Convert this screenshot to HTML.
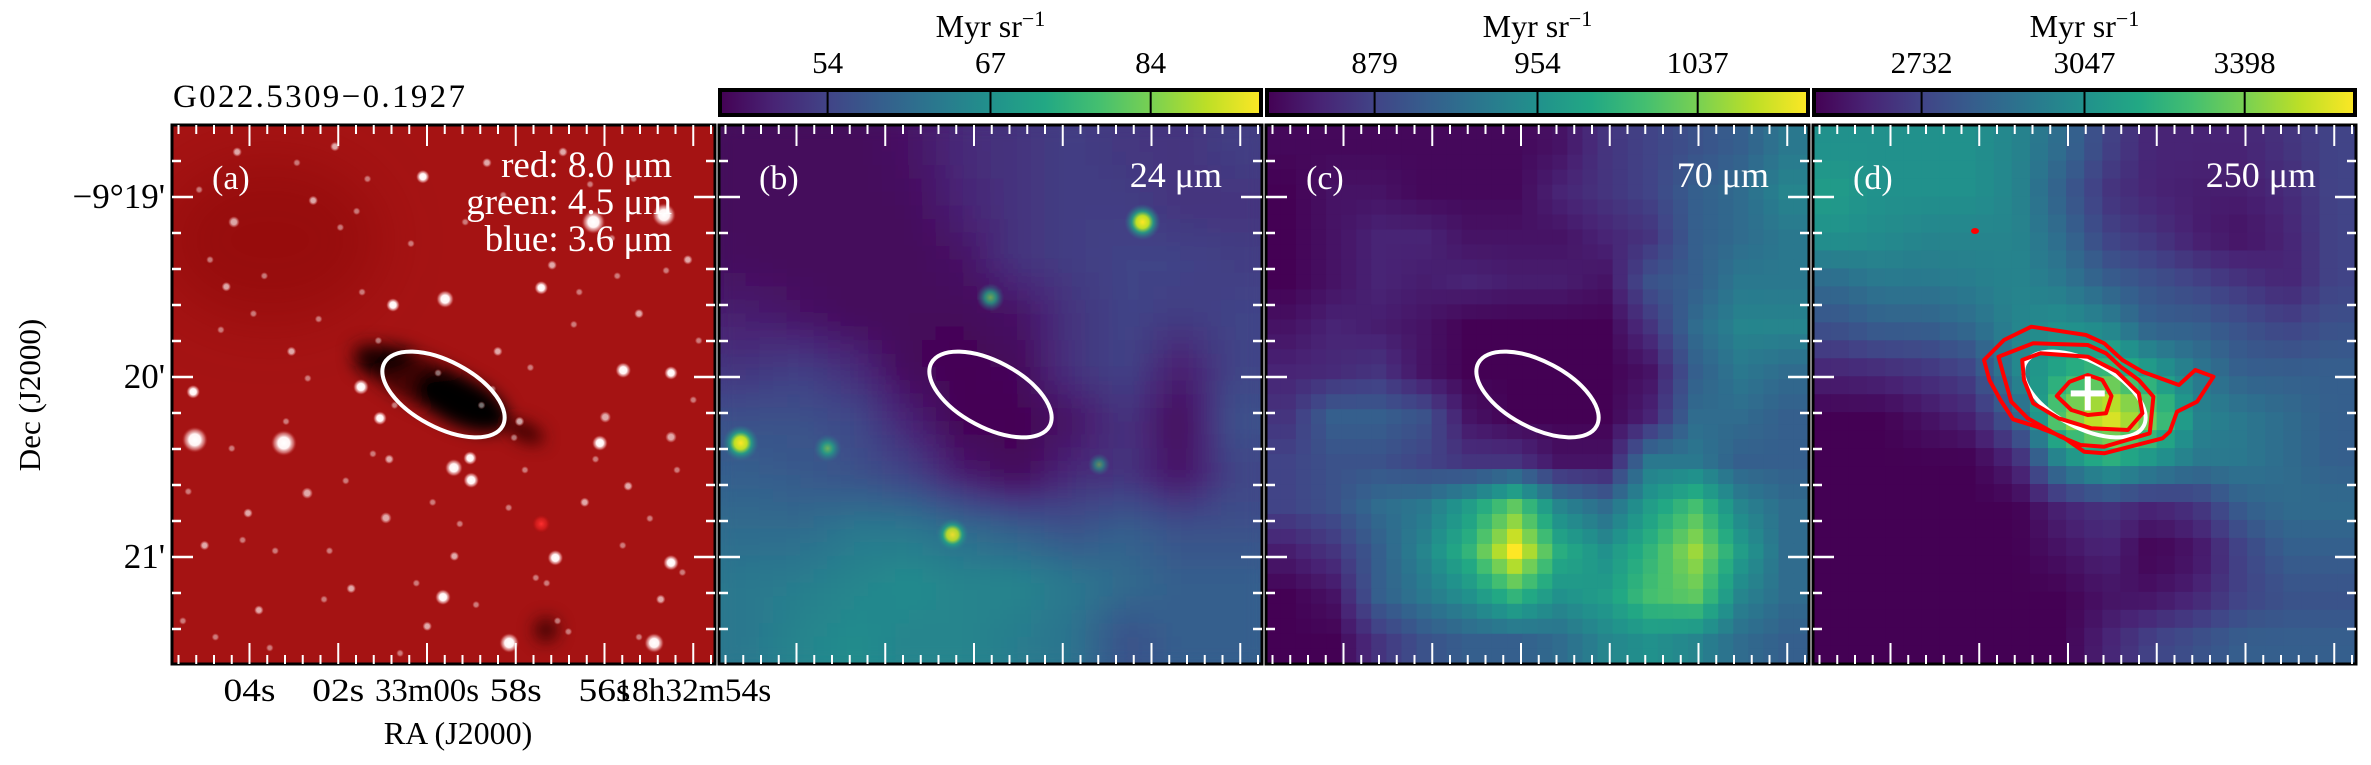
<!DOCTYPE html>
<html><head><meta charset="utf-8"><style>
html,body{margin:0;padding:0;background:#fff}
svg{display:block}
text{font-family:"Liberation Serif",serif}
</style></head><body>
<svg id="fig" xmlns="http://www.w3.org/2000/svg" width="2371" height="765" viewBox="0 0 2371 765">
<defs>
<filter id="blur8" filterUnits="userSpaceOnUse" x="0" y="0" width="2371" height="765"><feGaussianBlur stdDeviation="8"/></filter>
<filter id="blur14" filterUnits="userSpaceOnUse" x="0" y="0" width="2371" height="765"><feGaussianBlur stdDeviation="30"/></filter>
<radialGradient id="starW"><stop offset="0" stop-color="#fff"/><stop offset="0.45" stop-color="#fff4f4"/><stop offset="0.75" stop-color="#e8a0a0" stop-opacity="0.6"/><stop offset="1" stop-color="#c03030" stop-opacity="0"/></radialGradient>
<radialGradient id="starR"><stop offset="0" stop-color="#ff3030"/><stop offset="0.6" stop-color="#e02020" stop-opacity="0.7"/><stop offset="1" stop-color="#c01010" stop-opacity="0"/></radialGradient>
<radialGradient id="starY"><stop offset="0" stop-color="#fde725"/><stop offset="0.35" stop-color="#bddf26"/><stop offset="0.6" stop-color="#22a884" stop-opacity="0.8"/><stop offset="1" stop-color="#2a788e" stop-opacity="0"/></radialGradient>
<radialGradient id="starG"><stop offset="0" stop-color="#7ad151"/><stop offset="0.4" stop-color="#22a884"/><stop offset="1" stop-color="#2a788e" stop-opacity="0"/></radialGradient>
<linearGradient id="viridisH" x1="0" x2="1" y1="0" y2="0">
<stop offset="0" stop-color="#440154"/><stop offset="0.1" stop-color="#482475"/><stop offset="0.2" stop-color="#414487"/><stop offset="0.3" stop-color="#355f8d"/><stop offset="0.4" stop-color="#2a788e"/><stop offset="0.5" stop-color="#21918c"/><stop offset="0.6" stop-color="#22a884"/><stop offset="0.7" stop-color="#44bf70"/><stop offset="0.8" stop-color="#7ad151"/><stop offset="0.9" stop-color="#bddf26"/><stop offset="1" stop-color="#fde725"/>
</linearGradient>
<clipPath id="clipA"><rect x="172" y="125" width="543" height="539"/></clipPath>
<clipPath id="clipB"><rect x="719" y="125" width="543" height="539"/></clipPath>
<clipPath id="clipC"><rect x="1266" y="125" width="543" height="539"/></clipPath>
<clipPath id="clipD"><rect x="1813" y="125" width="543" height="539"/></clipPath>
</defs>

<text x="173" y="107" font-size="33" textLength="292" lengthAdjust="spacing">G022.5309−0.1927</text>

<g id="panelA" clip-path="url(#clipA)">
<rect x="172" y="125" width="543" height="539" fill="#a51313"/>
<g filter="url(#blur14)">
<ellipse cx="270" cy="240" rx="110" ry="80" fill="#7a0e0e" opacity="0.35"/>
</g>
<g filter="url(#blur8)">
<ellipse cx="430" cy="385" rx="85" ry="24" transform="rotate(25 430 385)" fill="#2a0404" opacity="0.8"/>
<ellipse cx="462" cy="402" rx="50" ry="24" transform="rotate(25 462 402)" fill="#050202"/>
<ellipse cx="385" cy="360" rx="30" ry="12" transform="rotate(-10 385 360)" fill="#0a0303"/>
<ellipse cx="525" cy="432" rx="20" ry="9" transform="rotate(25 525 432)" fill="#3a0505"/>
<ellipse cx="546" cy="630" rx="12" ry="12" fill="#2a0404" opacity="0.8"/>
</g>
<g id="starsA"></g>
</g>
<rect x="172" y="125" width="543" height="539" fill="none" stroke="#000" stroke-width="3"/>

<g id="panelB" clip-path="url(#clipB)"></g>
<rect x="719" y="125" width="543" height="539" fill="none" stroke="#000" stroke-width="3"/>
<g id="panelC" clip-path="url(#clipC)"></g>
<rect x="1266" y="125" width="543" height="539" fill="none" stroke="#000" stroke-width="3"/>
<g id="panelD" clip-path="url(#clipD)"></g>
<rect x="1813" y="125" width="543" height="539" fill="none" stroke="#000" stroke-width="3"/>

<g id="overlays"></g>
<g id="ticks"></g>
<g id="cbars"></g>

<text x="0" y="0" font-size="31" text-anchor="middle" transform="translate(40 395) rotate(-90)">Dec (J2000)</text>
<text x="458" y="744" font-size="32" text-anchor="middle">RA (J2000)</text>
</svg>

<script>
// ---- data arrays ----
const cbarTickLabels = [["54","67","84"],["879","954","1037"],["2732","3047","3398"]];
const cbarTickFrac = [0.2,0.5,0.795];
const decLabels = ["−9°19'","20'","21'"];
const raLabels = ["04s","02s","33m00s","58s","56s","18h32m54s"];
const raLabelWidths = [52,52,104,52,52,156];
const panelLetters = ["(a)","(b)","(c)","(d)"];
const bandLabels = ["","24 μm","70 μm","250 μm"];
const rgbLegend = ["red: 8.0 μm","green: 4.5 μm","blue: 3.6 μm"];

const gridB = [
[0.02,0.02,0.02,0.05,0.12,0.15,0.18,0.16,0.15,0.18],
[0.02,0.02,0.02,0.03,0.10,0.15,0.18,0.18,0.15,0.15],
[0.03,0.02,0.02,0.02,0.05,0.15,0.18,0.20,0.20,0.18],
[0.08,0.05,0.02,0.02,0.02,0.05,0.15,0.20,0.18,0.20],
[0.15,0.18,0.12,0.02,0.00,0.02,0.15,0.20,0.08,0.20],
[0.25,0.25,0.22,0.10,0.00,0.00,0.05,0.15,0.02,0.25],
[0.30,0.28,0.25,0.20,0.08,0.02,0.12,0.15,0.05,0.20],
[0.35,0.35,0.40,0.40,0.35,0.30,0.25,0.30,0.25,0.25],
[0.40,0.42,0.45,0.48,0.45,0.45,0.40,0.35,0.30,0.30],
[0.40,0.45,0.48,0.45,0.45,0.42,0.38,0.25,0.30,0.30]];
const gridC = [
[0.02,0.02,0.02,0.02,0.02,0.02,0.05,0.15,0.20,0.25,0.30,0.40],
[0.00,0.05,0.05,0.02,0.02,0.02,0.10,0.15,0.20,0.30,0.35,0.45],
[0.00,0.05,0.10,0.10,0.05,0.05,0.05,0.10,0.15,0.30,0.35,0.40],
[0.00,0.05,0.10,0.08,0.10,0.08,0.08,0.05,0.25,0.30,0.40,0.40],
[0.05,0.10,0.08,0.05,0.00,0.00,0.00,0.00,0.15,0.35,0.45,0.45],
[0.10,0.12,0.15,0.05,0.00,0.00,0.00,0.00,0.05,0.30,0.40,0.35],
[0.15,0.30,0.30,0.25,0.05,0.00,0.00,0.00,0.10,0.35,0.35,0.30],
[0.20,0.25,0.25,0.20,0.15,0.15,0.05,0.05,0.40,0.40,0.30,0.30],
[0.20,0.25,0.35,0.40,0.55,0.75,0.45,0.35,0.55,0.70,0.45,0.35],
[0.08,0.15,0.30,0.45,0.65,1.00,0.62,0.50,0.65,0.85,0.55,0.35],
[0.00,0.05,0.30,0.40,0.50,0.65,0.50,0.55,0.70,0.75,0.45,0.35],
[0.00,0.00,0.15,0.25,0.30,0.30,0.35,0.45,0.50,0.45,0.35,0.30]];
const gridD = [
[0.50,0.50,0.50,0.50,0.45,0.35,0.20,0.10,0.10,0.10,0.15,0.20],
[0.55,0.50,0.50,0.50,0.45,0.30,0.15,0.10,0.08,0.08,0.12,0.20],
[0.50,0.48,0.45,0.45,0.45,0.35,0.20,0.15,0.08,0.05,0.10,0.20],
[0.35,0.40,0.40,0.42,0.45,0.40,0.30,0.25,0.20,0.15,0.10,0.20],
[0.25,0.30,0.30,0.35,0.45,0.50,0.45,0.30,0.30,0.25,0.20,0.25],
[0.10,0.12,0.15,0.20,0.45,0.60,0.70,0.55,0.40,0.30,0.30,0.30],
[0.00,0.00,0.05,0.10,0.30,0.80,1.00,0.80,0.45,0.40,0.35,0.30],
[0.00,0.00,0.00,0.00,0.10,0.45,0.60,0.50,0.40,0.40,0.35,0.30],
[0.00,0.00,0.00,0.00,0.00,0.10,0.15,0.10,0.15,0.30,0.35,0.35],
[0.00,0.00,0.00,0.00,0.00,0.05,0.10,0.00,0.05,0.20,0.30,0.30],
[0.00,0.00,0.00,0.00,0.00,0.00,0.05,0.05,0.10,0.20,0.25,0.25],
[0.00,0.00,0.00,0.00,0.00,0.00,0.10,0.20,0.25,0.30,0.30,0.30]];
const starsBx = [0.78,0.50,0.04,0.20,0.43,0.70];
const starsBy = [0.18,0.32,0.59,0.60,0.76,0.63];
const starsBv = [1.0,0.6,1.0,0.6,0.85,0.3];
const starsAx = [0.042,0.206,0.348,0.383,0.503,0.407,0.462,0.776,0.906,0.680,0.831,0.919,0.788,0.519,0.551,0.549,0.680,0.706,0.919,0.499,0.621,0.888,0.039,0.114,0.249,0.394,0.798,0.919,0.12,0.30,0.58,0.72,0.86,0.10,0.22,0.64,0.95,0.33,0.47,0.76,0.16,0.52,0.84,0.06,0.40,0.26,0.60,0.70,0.14,0.90,
0.05,0.09,0.17,0.25,0.31,0.37,0.44,0.53,0.61,0.67,0.74,0.81,0.88,0.96,0.03,0.13,0.21,0.28,0.35,0.42,0.49,0.56,0.63,0.71,0.78,0.85,0.93,0.08,0.19,0.27,0.36,0.45,0.57,0.66,0.75,0.83,0.91,0.02,0.11,0.23,0.32,0.41,0.54,0.62,0.69,0.77,0.86,0.94,0.15,0.29,0.38,0.59,0.73,0.97,0.07,0.18,0.34,0.48,0.65,0.82];
const starsAy = [0.584,0.590,0.486,0.544,0.323,0.334,0.096,0.180,0.167,0.302,0.455,0.460,0.590,0.636,0.659,0.618,0.740,0.803,0.812,0.876,0.961,0.961,0.495,0.180,0.683,0.729,0.542,0.579,0.05,0.04,0.07,0.05,0.35,0.30,0.42,0.55,0.25,0.86,0.93,0.70,0.90,0.80,0.67,0.78,0.62,0.14,0.42,0.26,0.72,0.88,
0.12,0.38,0.28,0.47,0.19,0.61,0.22,0.74,0.13,0.84,0.37,0.21,0.73,0.51,0.68,0.77,0.55,0.88,0.31,0.98,0.46,0.89,0.58,0.92,0.62,0.10,0.64,0.95,0.79,0.36,0.10,0.85,0.52,0.45,0.31,0.78,0.27,0.92,0.60,0.07,0.66,0.52,0.18,0.71,0.85,0.11,0.95,0.83,0.35,0.79,0.40,0.49,0.94,0.40,0.25,0.97,0.16,0.70,0.64,0.28];
const starsAs = [13,13,8,7,9,7,7,12,12,7,8,7,8,9,8,7,9,8,8,8,10,10,7,6,6,6,6,6,5,5,5,5,5,5,5,5,5,5,5,5,5,5,5,5,5,5,5,5,5,5,
4,4,4,4,4,4,4,4,4,4,4,4,4,4,4,4,4,4,4,4,4,4,4,4,4,4,4,4,4,4,4,4,4,4,4,4,4,4,4,4,4,4,4,4,4,4,4,4,4,4,4,4,4,4,4,4,4,4,4,4];

const NS="http://www.w3.org/2000/svg";
const PL=[172,719,1266,1813], PT=125, PW=543, PH=539;
const VIR=["#440154","#482475","#414487","#355f8d","#2a788e","#21918c","#22a884","#44bf70","#7ad151","#bddf26","#fde725"];
function hex(c){return [parseInt(c.slice(1,3),16),parseInt(c.slice(3,5),16),parseInt(c.slice(5,7),16)];}
const VR=VIR.map(hex);
function viridis(v){v=Math.max(0,Math.min(1,v));const t=v*10,i=Math.min(9,Math.floor(t)),f=t-i;const a=VR[i],b=VR[i+1];
return "rgb("+a.map((x,k)=>Math.round(x+(b[k]-x)*f)).join(",")+")";}
function sample(g,u,v){const R=g.length,C=g[0].length;let x=u*C-0.5,y=v*R-0.5;x=Math.max(0,Math.min(C-1,x));y=Math.max(0,Math.min(R-1,y));
const x0=Math.floor(x),y0=Math.floor(y),x1=Math.min(C-1,x0+1),y1=Math.min(R-1,y0+1),fx=x-x0,fy=y-y0;
return g[y0][x0]*(1-fx)*(1-fy)+g[y0][x1]*fx*(1-fy)+g[y1][x0]*(1-fx)*fy+g[y1][x1]*fx*fy;}
function px(p,f){return PL[p]+f*PW;}
function py(f){return PT+f*PH;}
function mk(tag,attrs,parent){const e=document.createElementNS(NS,tag);for(const k in attrs)e.setAttribute(k,attrs[k]);parent.appendChild(e);return e;}

function drawGrid(g,p,N,parentId,name,filt){
  const par=document.getElementById(parentId);
  const grp=mk("g",filt?{filter:filt}:{},par);
  const cw=PW/N,ch=PH/N;
  for(let j=0;j<N;j++)for(let i=0;i<N;i++){
    const v=sample(g,(i+0.5)/N,(j+0.5)/N);
    const r=mk("rect",{x:(px(p,i/N)-0.3).toFixed(2),y:(py(j/N)-0.3).toFixed(2),width:(cw+0.6).toFixed(2),height:(ch+0.6).toFixed(2),fill:viridis(v)},grp);
    
    
  }
  return grp;
}
drawGrid(gridB,1,40,"panelB","pixel-24um",null);
drawGrid(gridB,1,40,"panelB","pixel-24um","url(#blur8)");
const pb=document.getElementById("panelB");
for(let k=0;k<starsBx.length;k++){
  const c=mk("circle",{cx:px(1,starsBx[k]),cy:py(starsBy[k]),r:8+10*starsBv[k],fill:starsBv[k]>0.8?"url(#starY)":"url(#starG)",opacity:0.4+0.6*starsBv[k]},pb);
  
  
}
drawGrid(gridC,2,36,"panelC","pixel-70um",null);
drawGrid(gridD,3,30,"panelD","pixel-250um",null);

const sa=document.getElementById("starsA");
for(let k=0;k<starsAx.length;k++){
  const red=(k===16);
  const s=starsAs[k];
  const c=mk("circle",{cx:px(0,starsAx[k]),cy:py(starsAy[k]),r:s,fill:red?"url(#starR)":"url(#starW)",opacity:s>6?1:(s>4?0.65:0.45)},sa);
  
  
}

const ov=document.getElementById("overlays");
for(let p=0;p<4;p++){
  const cx=px(p,0.5),cy=py(0.5);
  const e=mk("ellipse",{cx:cx,cy:cy,rx:67,ry:33,transform:"rotate(28 "+cx+" "+cy+")",fill:"none",stroke:"#fff","stroke-width":4},ov);
  
  
  const t=mk("text",{x:PL[p]+40,y:189,"font-size":34,fill:"#fff"},ov);t.textContent=panelLetters[p];
  
  
  if(bandLabels[p]){const b=mk("text",{x:PL[p]+PW-40,y:187,"font-size":36,fill:"#fff","text-anchor":"end"},ov);b.textContent=bandLabels[p];
    
    }
}
rgbLegend.forEach((s,i)=>{const t=mk("text",{x:672,y:177+i*37,"font-size":37,fill:"#fff","text-anchor":"end"},ov);t.textContent=s;
  
  });

const contours=[
[[635,440],[785,465],[835,490],[885,540],[940,575],[1040,615],[1085,570],[1135,590],[1090,665],[1035,695],[1015,755],[995,775],[835,820],[780,815],[720,770],[650,740],[585,718],[550,660],[520,600],[505,540],[560,480]],
[[545,530],[640,490],[790,495],[840,520],[880,560],[930,600],[970,650],[960,760],[835,800],[770,795],[715,770],[625,715],[580,665],[560,590]],
[[610,540],[660,520],[790,530],[870,575],[930,640],[940,700],[900,750],[800,745],[710,715],[640,670],[615,600]],
[[705,648],[740,605],[790,585],[830,600],[855,648],[840,700],[790,705],[745,690]]];
contours.forEach(c=>{const pts=c.map(q=>(1800+q[0]/2.745).toFixed(1)+","+(180+q[1]/3).toFixed(1)).join(" ");
  const pg=mk("polygon",{points:pts,fill:"none",stroke:"#f00","stroke-width":4,"stroke-linejoin":"round"},ov);
  
  });
const dot=mk("ellipse",{cx:1975,cy:231,rx:4,ry:3,fill:"#f00"},ov);


const cx=px(3,0.506),cy=py(0.498);
const cr1=mk("rect",{x:cx-17,y:cy-3,width:34,height:6,fill:"#fff"},ov);


const cr2=mk("rect",{x:cx-3,y:cy-17,width:6,height:34,fill:"#fff"},ov);



const tk=document.getElementById("ticks");
const XMAJ0=77.5, XSTEP=17.75, YMAJ0=72, YSTEP=36;
for(let p=0;p<4;p++){
  for(let k=-4;k<=26;k++){const x=PL[p]+XMAJ0+k*XSTEP; if(x<PL[p]+4||x>PL[p]+PW-3)continue;
    const len=(k%5===0)?21:9;
    mk("line",{x1:x,x2:x,y1:PT,y2:PT+len,stroke:"#fff","stroke-width":2},tk);
    mk("line",{x1:x,x2:x,y1:PT+PH,y2:PT+PH-len,stroke:"#fff","stroke-width":2},tk);}
  for(let k=-1;k<=13;k++){const y=PT+YMAJ0+k*YSTEP; if(y<PT+4||y>PT+PH-4)continue;
    const len=(k%5===0)?21:9;
    mk("line",{x1:PL[p],x2:PL[p]+len,y1:y,y2:y,stroke:"#fff","stroke-width":2.5},tk);
    mk("line",{x1:PL[p]+PW,x2:PL[p]+PW-len,y1:y,y2:y,stroke:"#fff","stroke-width":2.5},tk);}
}
decLabels.forEach((s,i)=>{const t=mk("text",{x:165,y:PT+YMAJ0+i*5*YSTEP+11,"font-size":35,"text-anchor":"end"},tk);t.textContent=s;
  
  });
raLabels.forEach((s,i)=>{const t=mk("text",{x:PL[0]+XMAJ0+i*5*XSTEP,y:701,"font-size":33,"text-anchor":"middle",textLength:raLabelWidths[i],lengthAdjust:"spacingAndGlyphs"},tk);t.textContent=s;
  
  });

const cb=document.getElementById("cbars");
for(let q=0;q<3;q++){const p=q+1,L=PL[p];
  const r=mk("rect",{x:L+1,y:90,width:PW-2,height:25,fill:"url(#viridisH)",stroke:"#000","stroke-width":4},cb);
  
  
  const u=mk("text",{x:L+PW/2,y:37,"font-size":32,"text-anchor":"middle"},cb);
  u.innerHTML='Myr sr<tspan dy="-11" font-size="22">−1</tspan>';
  
  
  cbarTickLabels[q].forEach((s,i)=>{const x=L+cbarTickFrac[i]*PW;
    mk("line",{x1:x,x2:x,y1:92,y2:113,stroke:"#000","stroke-width":2},cb);
    const t=mk("text",{x:x,y:73,"font-size":31,"text-anchor":"middle"},cb);t.textContent=s;
    
    });
}
</script>
</body></html>
